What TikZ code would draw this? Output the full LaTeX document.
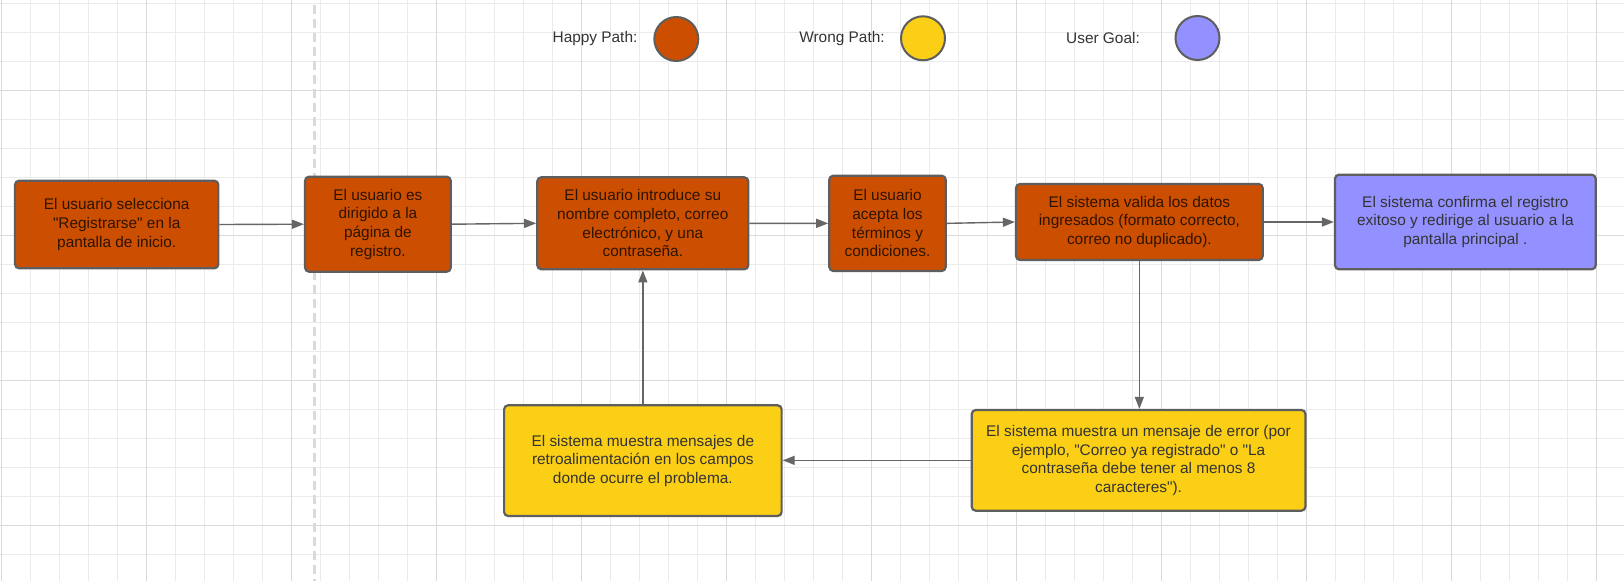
\documentclass[tikz,border=0pt]{standalone}
\usepackage{fontspec}
\setmainfont{Liberation Sans}[Ligatures=TeXOff]
\usetikzlibrary{arrows.meta}
\definecolor{happy}{HTML}{CC4E00}
\definecolor{wrong}{HTML}{FBCF16}
\definecolor{goal}{HTML}{9391FF}
\definecolor{boxline}{HTML}{5E5E5E}
\definecolor{arrowgray}{HTML}{666666}
\definecolor{gridminor}{HTML}{EBEBEB}
\definecolor{gridmajor}{HTML}{DADADA}
\definecolor{txtdark}{HTML}{333333}
\definecolor{txtbrown}{HTML}{2E1400}
\tikzset{
  flowbox/.style={draw=boxline, line width=2.2pt, rounded corners=4pt, inner sep=0pt, align=center,
    font=\fontsize{15.4}{18.6}\selectfont},
  happybox/.style={flowbox, fill=happy, text=txtbrown},
  wrongbox/.style={flowbox, fill=wrong, text=txtdark},
  goalbox/.style={flowbox, fill=goal, text=txtdark},
  flowarrow/.style={draw=arrowgray, line width=1.4pt, -{Triangle[length=12pt,width=9pt]}},
  legendtext/.style={text=txtdark, font=\fontsize{15.4}{18.6}\selectfont, inner sep=0pt},
  legenddot/.style={circle, draw=boxline, line width=2pt, minimum size=44pt, inner sep=0pt},
  gminor/.style={draw=gridminor, line width=1pt},
  gmajor/.style={draw=gridmajor, line width=1pt}
}
\begin{document}
\begin{tikzpicture}[x=1pt, y=-1pt]
\useasboundingbox (0,0) rectangle (1624,581);
\fill[white] (0,0) rectangle (1624,581);
% grid
\foreach \k in {0,...,55} \draw[gminor] ({1.7+29*\k},0) -- ({1.7+29*\k},581);
\foreach \k in {0,...,19} \draw[gminor] (0,{3.3+29*\k}) -- (1624,{3.3+29*\k});
\foreach \k in {0,5,...,55} \draw[gmajor] ({1.7+29*\k},0) -- ({1.7+29*\k},581);
\foreach \k in {3,8,13,18} \draw[gmajor] (0,{3.3+29*\k}) -- (1624,{3.3+29*\k});
% dashed separator
\draw[draw=gridmajor, line width=2.6pt, dash pattern=on 9pt off 5pt] (314.3,5) -- (314.3,581);
% legend
\node[legendtext] (lh) at (595,38.5) {Happy Path:};
\node[legenddot, fill=happy] (ch) at (676.3,39) {};
\node[legendtext] (lw) at (842,38.3) {Wrong Path:};
\node[legenddot, fill=wrong] (cw) at (923,38.3) {};
\node[legendtext] (lg) at (1103,38) {User Goal:};
\node[legenddot, fill=goal] (cg) at (1197.5,38) {};
% boxes
\node[happybox, minimum width=203.3pt, minimum height=87.6pt] (b1) at (116.7,224.5)
  {El usuario selecciona\\"Registrarse" en la\\pantalla de inicio.};
\node[happybox, minimum width=145.7pt, minimum height=95pt] (b2) at (377.9,224.2)
  {El usuario es\\dirigido a la\\página de\\registro.};
\node[happybox, minimum width=211pt, minimum height=92pt] (b3) at (642.8,223.3)
  {El usuario introduce su\\nombre completo, correo\\electrónico, y una\\contraseña.};
\node[happybox, minimum width=116.4pt, minimum height=95.3pt] (b4) at (887.5,223.35)
  {El usuario\\acepta los\\términos y\\condiciones.};
\node[happybox, minimum width=246.7pt, minimum height=76pt] (b5) at (1139.35,222)
  {El sistema valida los datos\\ingresados (formato correcto,\\correo no duplicado).};
\node[goalbox, minimum width=260.7pt, minimum height=94.6pt] (b6) at (1465.35,222)
  {El sistema confirma el registro\\exitoso y redirige al usuario a la\\pantalla principal .};
\node[wrongbox, minimum width=277.5pt, minimum height=110.7pt] (b7) at (642.85,460.65)
  {El sistema muestra mensajes de\\retroalimentación en los campos\\donde ocurre el problema.};
\node[wrongbox, minimum width=333.7pt, minimum height=100.7pt] (b8) at (1138.55,460.35)
  {El sistema muestra un mensaje de error (por\\ejemplo, "Correo ya registrado" o "La\\contraseña debe tener al menos 8\\caracteres").};
% connectors
\draw[flowarrow] (b1.east) -- (b2.west);
\draw[flowarrow] (b2.east) -- (b3.west);
\draw[flowarrow] (b3.east) -- (b4.west);
\draw[flowarrow] (b4.east) -- (b5.west);
\draw[flowarrow] (b5.east) -- (b6.west);
\draw[flowarrow] (b5.south) -- (b5.south |- b8.north);
\draw[flowarrow] (b8.west) -- (b8.west -| b7.east);
\draw[flowarrow] (b7.north) -- (b7.north |- b3.south);
\end{tikzpicture}
\end{document}
